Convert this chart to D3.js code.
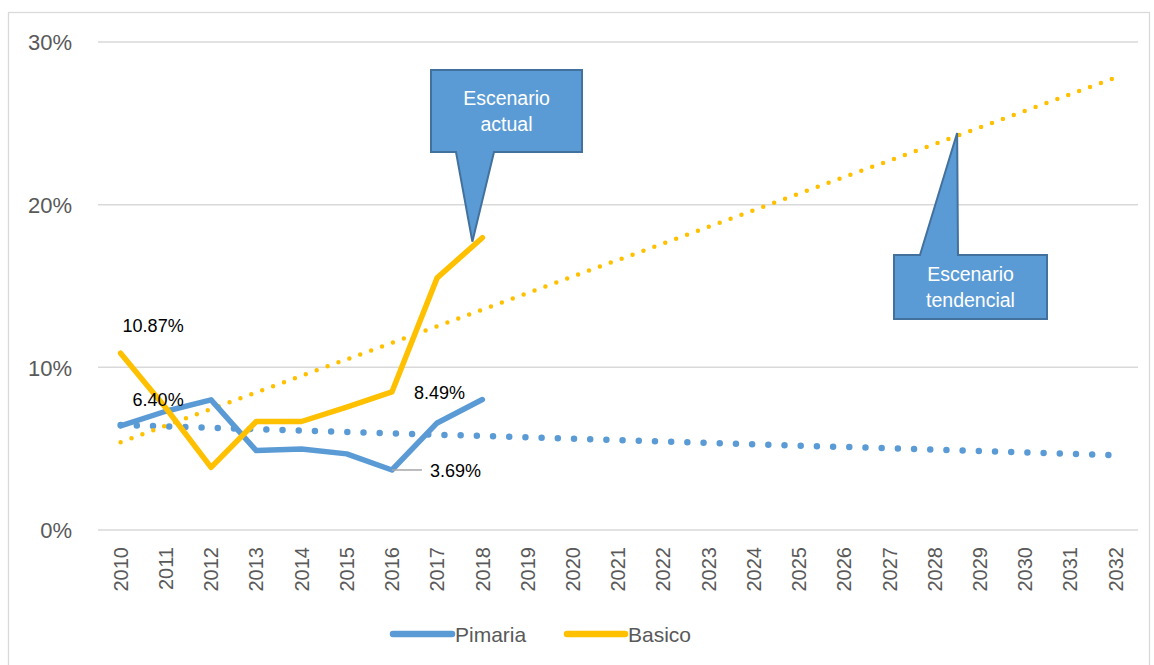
<!DOCTYPE html>
<html><head><meta charset="utf-8">
<script src="https://cdn.jsdelivr.net/npm/d3@7"></script>
<style>
html,body{margin:0;padding:0;background:#fff;}
svg{display:block;font-family:"Liberation Sans",Arial,sans-serif;}
</style></head>
<body><svg id="c" width="1154" height="665"></svg>
<script>
const years = d3.range(2010, 2033).map(String);
const actualYears = ["2010","2011","2012","2013","2014","2015","2016","2017","2018"];
const pimaria = [6.40, 7.3, 8.0, 4.88, 4.98, 4.68, 3.69, 6.58, 8.02];
const basico  = [10.87, 7.5, 3.85, 6.67, 6.67, 7.55, 8.49, 15.5, 17.97];
const trendYears = ["2010","2032"];
const trendPimaria = [6.45, 4.6];
const trendBasico  = [5.4, 27.8];
const yTicks = [0, 10, 20, 30];
const seriesNames = ["Pimaria", "Basico"];
const labels = [
  {series:"Basico", year:"2010", text:"10.87%"},
  {series:"Pimaria", year:"2010", text:"6.40%"},
  {series:"Basico", year:"2016", text:"8.49%"},
  {series:"Pimaria", year:"2016", text:"3.69%"}
];
const callouts = [
  {lines:["Escenario","actual"]},
  {lines:["Escenario","tendencial"]}
];

const BLUE="#5B9BD5", ORANGE="#FFC000";
const svg = d3.select("#c");
svg.append("rect").attr("x",8.5).attr("y",12.5).attr("width",1141).attr("height",660)
  .attr("fill","#fff").attr("stroke","#d9d9d9").attr("stroke-width",1.3);

const x = d3.scaleBand().domain(years).range([98,1138]);
const cx = d => x(d) + x.bandwidth()/2;
const y = d3.scaleLinear().domain([0,30]).range([530,42]);

// gridlines
svg.append("g").selectAll("line").data(yTicks).join("line")
  .attr("x1",98).attr("x2",1138).attr("y1",d=>y(d)).attr("y2",d=>y(d))
  .attr("stroke","#d9d9d9").attr("stroke-width",1.5);

// y axis labels
const yAxis = d3.axisLeft(y).tickValues(yTicks).tickFormat(d=>d+"%").tickSize(0).tickPadding(0);
const gy = svg.append("g").attr("transform","translate(72,0)").call(yAxis);
gy.select(".domain").remove();
gy.selectAll("text").attr("font-size",22).attr("fill","#595959").attr("font-family","Liberation Sans, Arial, sans-serif").attr("dy","0.36em");

// x axis labels
const xAxis = d3.axisBottom(x).tickSize(0).tickPadding(0);
const gx = svg.append("g").attr("transform","translate(0,547)").call(xAxis);
gx.select(".domain").remove();
gx.selectAll("text").attr("font-size",20).attr("fill","#595959").attr("font-family","Liberation Sans, Arial, sans-serif")
  .attr("text-anchor","end").attr("transform","rotate(-90)").attr("x",0).attr("y",0).attr("dy","0.36em");

const line = d3.line().x(d=>cx(d[0])).y(d=>y(d[1]));

// trend lines
svg.append("path").datum(trendYears.map((t,i)=>[t,trendPimaria[i]])).attr("d",line)
  .attr("fill","none").attr("stroke",BLUE).attr("stroke-width",6.5).attr("stroke-linecap","round")
  .attr("stroke-dasharray","0,16.2");
svg.append("path").datum(trendYears.map((t,i)=>[t,trendBasico[i]])).attr("d",line)
  .attr("fill","none").attr("stroke",ORANGE).attr("stroke-width",4.5).attr("stroke-linecap","round")
  .attr("stroke-dasharray","0,11.6");

// actual lines
svg.append("path").datum(actualYears.map((t,i)=>[t,pimaria[i]])).attr("d",line)
  .attr("fill","none").attr("stroke",BLUE).attr("stroke-width",5.5).attr("stroke-linejoin","round").attr("stroke-linecap","round");
svg.append("path").datum(actualYears.map((t,i)=>[t,basico[i]])).attr("d",line)
  .attr("fill","none").attr("stroke",ORANGE).attr("stroke-width",5.5).attr("stroke-linejoin","round").attr("stroke-linecap","round");

// data labels
const valOf = (s,yr) => (s==="Pimaria"?pimaria:basico)[actualYears.indexOf(yr)];
const offs = [[2,-21],[12,-20],[22,7],[38,7]];
labels.forEach((l,i)=>{
  const px = cx(l.year), py = y(valOf(l.series,l.year));
  if (i===3) {
    svg.append("line").attr("x1",px).attr("x2",px+30).attr("y1",py).attr("y2",py)
      .attr("stroke","#a6a6a6").attr("stroke-width",1.5);
  }
  svg.append("text").attr("x",px+offs[i][0]).attr("y",py+offs[i][1])
    .attr("font-size",18).attr("fill","#000").text(l.text);
});

// callouts
function callout(c, rx, ry, rw, rh, b1, b2, tx, ty, up) {
  const g = svg.append("g");
  let p;
  if (!up) {
    p = [[rx,ry],[rx+rw,ry],[rx+rw,ry+rh],[b2,ry+rh],[tx,ty],[b1,ry+rh],[rx,ry+rh]];
  } else {
    p = [[rx,ry],[b1,ry],[tx,ty],[b2,ry],[rx+rw,ry],[rx+rw,ry+rh],[rx,ry+rh]];
  }
  g.append("path").attr("d","M"+p.map(q=>q.join(",")).join("L")+"Z")
    .attr("fill",BLUE).attr("stroke","#41719C").attr("stroke-width",2).attr("stroke-linejoin","miter");
  c.lines.forEach((t,i)=>{
    g.append("text").attr("x",rx+rw/2).attr("y",ry+rh/2+(i-0.5)*26+7)
      .attr("text-anchor","middle").attr("font-size",19.5).attr("fill","#fff").text(t);
  });
}
callout(callouts[0], 431, 70, 151, 82, 456, 494, cx("2018")-10, y(basico[8])+4, false);
callout(callouts[1], 894, 255, 153, 64, 920, 958, (cx("2028")+cx("2029"))/2, 133, true);

// legend
const leg = [[393,452,455],[567,625,628]];
seriesNames.forEach((s,i)=>{
  svg.append("line").attr("x1",leg[i][0]).attr("x2",leg[i][1]).attr("y1",634).attr("y2",634)
    .attr("stroke",i?ORANGE:BLUE).attr("stroke-width",6.5).attr("stroke-linecap","round");
  svg.append("text").attr("x",leg[i][2]).attr("y",634).attr("dy","0.36em")
    .attr("font-size",21).attr("fill","#595959").text(s);
});
</script></body></html>
